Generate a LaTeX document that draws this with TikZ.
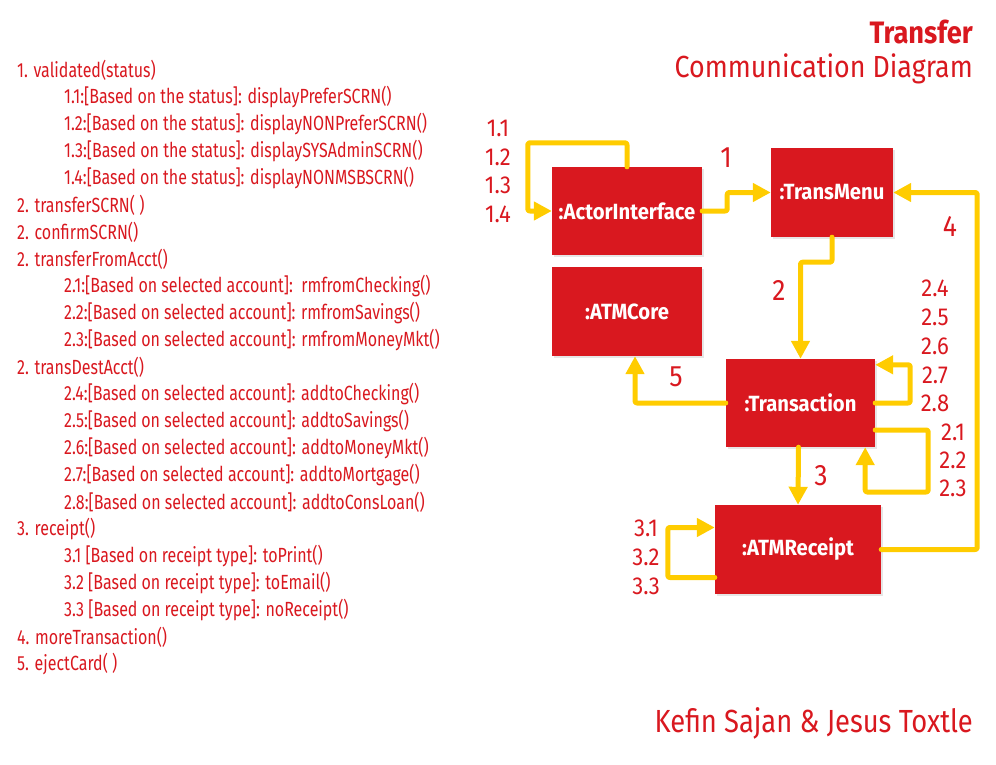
\documentclass[tikz,border=0pt]{standalone}
\usepackage{fontspec}
\setmainfont{Fira Sans}[FakeStretch=0.8]
\newfontfamily\fList{Fira Sans}[FakeStretch=0.78]
\newfontfamily\fBox{Fira Sans}[FakeStretch=0.92]
\newfontfamily\fTitle{Fira Sans}[FakeStretch=0.88]
\newfontfamily\fAuth{Fira Sans}[FakeStretch=0.855]
\newfontfamily\fLbl{Fira Sans}[FakeStretch=0.9]
\usetikzlibrary{arrows.meta,shadows}
\definecolor{dred}{HTML}{D9181F}
\definecolor{ayel}{HTML}{FFCC00}
\tikzset{
  box/.style={fill=dred, text=white, font=\fBox\fontsize{22}{24}\selectfont\bfseries, inner sep=0pt,
    drop shadow={opacity=0.2, shadow xshift=1.5pt, shadow yshift=-2pt}},
  arr/.style={draw=ayel, line width=5pt, rounded corners=2pt, line cap=round, line join=round,
    -{Triangle[width=18pt,length=18pt]}},
  lbl/.style={text=dred, font=\fLbl\fontsize{24.5}{26}\selectfont, inner sep=0pt},
  big/.style={text=dred, font=\fLbl\fontsize{29.5}{31}\selectfont, inner sep=0pt},
  itm/.style={text=dred, font=\fList\fontsize{20.5}{22}\selectfont, anchor=west, inner sep=0pt},
}
\begin{document}
\begin{tikzpicture}[x=1pt,y=-1pt]
\useasboundingbox (0,0) rectangle (996,765);
% title
\node[anchor=east, text=dred, font=\fTitle\fontsize{31}{33}\selectfont\bfseries, inner sep=0pt] (t1) at (973,32) {Transfer};
\node[anchor=east, text=dred, font=\fTitle\fontsize{30.5}{32}\selectfont, inner sep=0pt] (t2) at (973,69) {Communication Diagram};
\node[anchor=east, text=dred, font=\fAuth\fontsize{32}{34}\selectfont, inner sep=0pt] (t3) at (973,723) {Kefin Sajan \& Jesus Toxtle};
% list
\node[itm] (l1) at (17,70) {1. validated(status)};
\node[itm] (l2) at (64,97) {1.1:[Based on the status]: displayPreferSCRN()};
\node[itm] (l3) at (64,124) {1.2:[Based on the status]: displayNONPreferSCRN()};
\node[itm] (l4) at (64,151) {1.3:[Based on the status]: displaySYSAdminSCRN()};
\node[itm] (l5) at (64,178) {1.4:[Based on the status]: displayNONMSBSCRN()};
\node[itm] (l6) at (17,205) {2. transferSCRN( )};
\node[itm] (l7) at (17,232) {2. confirmSCRN()};
\node[itm] (l8) at (17,259) {2. transferFromAcct()};
\node[itm] (l9) at (64,286) {2.1:[Based on selected account]:\ \ rmfromChecking()};
\node[itm] (l10) at (64,313) {2.2:[Based on selected account]: rmfromSavings()};
\node[itm] (l11) at (64,340) {2.3:[Based on selected account]: rmfromMoneyMkt()};
\node[itm] (l12) at (17,367) {2. transDestAcct()};
\node[itm] (l13) at (64,394) {2.4:[Based on selected account]: addtoChecking()};
\node[itm] (l14) at (64,421) {2.5:[Based on selected account]: addtoSavings()};
\node[itm] (l15) at (64,448) {2.6:[Based on selected account]: addtoMoneyMkt()};
\node[itm] (l16) at (64,475) {2.7:[Based on selected account]: addtoMortgage()};
\node[itm] (l17) at (64,502) {2.8:[Based on selected account]: addtoConsLoan()};
\node[itm] (l18) at (17,529) {3. receipt()};
\node[itm] (l19) at (64,556) {3.1 [Based on receipt type]: toPrint()};
\node[itm] (l20) at (64,583) {3.2 [Based on receipt type]: toEmail()};
\node[itm] (l21) at (64,610) {3.3 [Based on receipt type]: noReceipt()};
\node[itm] (l22) at (17,637) {4. moreTransaction()};
\node[itm] (l23) at (17,664) {5. ejectCard( )};
% boxes
\node[box, minimum width=150pt, minimum height=88pt] (ai) at (627,211) {:ActorInterface};
\node[box, minimum width=122pt, minimum height=89pt] (tm) at (832,192.5) {:TransMenu};
\node[box, minimum width=150pt, minimum height=89pt] (core) at (627,311.5) {:ATMCore};
\node[box, minimum width=149pt, minimum height=88pt] (tr) at (800.5,403) {:Transaction};
\node[box, minimum width=166pt, minimum height=89pt] (rc) at (798,549.5) {:ATMReceipt};
% connectors
\draw[arr] (ai.north) -- ++(0,-24) -| ([xshift=-24pt]ai.west) -- (ai.west);
\draw[arr] (ai.east) -- ++(25,0) |- (tm.west);
\draw[arr] (tm.south) -- ++(0,25) -| (tr.north);
\draw[arr] (tr.west) -| ([xshift=8pt]core.south);
\draw[arr] ([xshift=-2pt]tr.south) -- (rc.north);
\draw[arr] (tr.east) -- ++(35,0) |- ([yshift=-6pt]tr.north east);
\draw[arr] ([yshift=-27pt]tr.east) -- ++(53,0) -- ++(0,62) -| ([xshift=-10pt]tr.south east);
\draw[arr] (rc.east) -- ++(96,0) |- (tm.east);
\draw[arr] ([yshift=-28pt]rc.west) -- ++(-47,0) |- ([yshift=22pt]rc.west);
% labels
\node[lbl] (a11) at (498,128) {1.1};
\node[lbl] (a12) at (498,157) {1.2};
\node[lbl] (a13) at (498,185) {1.3};
\node[lbl] (a14) at (498,214) {1.4};
\node[big] (n1) at (726,158) {1};
\node[big] (n2) at (779,290) {2};
\node[big] (n3) at (821,476) {3};
\node[big] (n4) at (950,226) {4};
\node[big] (n5) at (676,377) {5};
\node[lbl] (b24) at (935,288) {2.4};
\node[lbl] (b25) at (935,317) {2.5};
\node[lbl] (b26) at (935,346) {2.6};
\node[lbl] (b27) at (935,375) {2.7};
\node[lbl] (b28) at (935,403) {2.8};
\node[lbl] (b21) at (953,432) {2.1};
\node[lbl] (b22) at (953,460) {2.2};
\node[lbl] (b23) at (953,488) {2.3};
\node[lbl] (c31) at (646,528) {3.1};
\node[lbl] (c32) at (646,557) {3.2};
\node[lbl] (c33) at (646,586) {3.3};
\end{tikzpicture}
\end{document}
